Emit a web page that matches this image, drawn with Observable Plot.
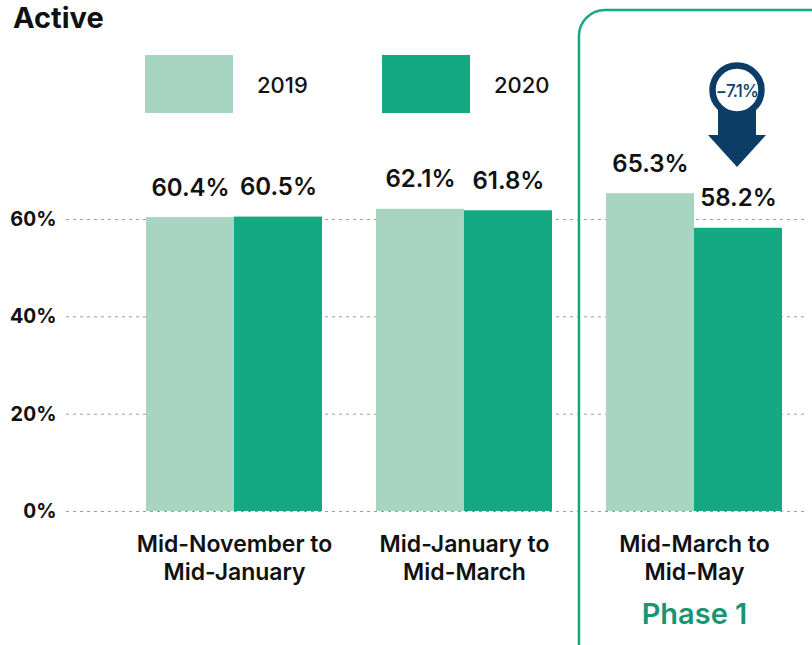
<!DOCTYPE html>
<html><head><meta charset="utf-8">
<script src="https://cdn.jsdelivr.net/npm/d3@7"></script>
<script src="https://cdn.jsdelivr.net/npm/@observablehq/plot@0.6"></script>
<style>
body{margin:0;background:#fff;}
#wrap{position:relative;width:812px;height:645px;overflow:hidden;}
#wrap svg{display:block;}
</style></head><body><div id="wrap"></div>
<script>
const title = "Active";
const periods = ["Mid-November to\nMid-January", "Mid-January to\nMid-March", "Mid-March to\nMid-May"];
const years = ["2019", "2020"];
const values2019 = [60.4, 62.1, 65.3];
const values2020 = [60.5, 61.8, 58.2];
const yTicks = [0, 20, 40, 60];
const phaseLabel = "Phase 1";
const changeLabel = "\u22127.1%";
const colors = ["#a8d5c2", "#14a983"];
const navy = "#0b3d66";
const FONT = "Inter, 'Noto Sans', sans-serif";

const rows = periods.flatMap((p, i) => [
  {period: p, year: years[0], value: values2019[i]},
  {period: p, year: years[1], value: values2020[i]}
]);
const r19 = rows.filter(d => d.year === years[0]);
const r20 = rows.filter(d => d.year === years[1]);

const xRange = [145.5, 781.5];
const padIn = 0.235;
const band = d3.scaleBand(periods, xRange).paddingInner(padIn).paddingOuter(0);
const half = band.bandwidth() / 2;

const plot = Plot.plot({
  width: 812, height: 645,
  marginLeft: 66, marginRight: 8, marginTop: 0, marginBottom: 0,
  style: {fontFamily: FONT, background: "#fff", overflow: "visible"},
  x: {domain: periods, range: xRange, paddingInner: padIn, paddingOuter: 0, axis: null},
  y: {domain: [0, 60], range: [511, 219], axis: null},
  marks: [
    Plot.ruleY(yTicks, {stroke: "#9c9c9c", strokeDasharray: "3,4", strokeWidth: 1}),
    Plot.axisY(yTicks, {tickSize: 0, tickPadding: 10, tickFormat: d => d + "%", fontSize: 20, fontWeight: 700, fill: "#111", label: null}),
    Plot.barY(r19, {x: "period", y: "value", fill: colors[0], insetRight: half}),
    Plot.barY(r20, {x: "period", y: "value", fill: colors[1], insetLeft: half}),
    Plot.text(r19, {x: "period", y: "value", text: d => d.value.toFixed(1) + "%", dx: -half / 2, dy: -22, lineAnchor: "bottom", fontSize: 24, fontWeight: 600, fill: "#111"}),
    Plot.text(r20, {x: "period", y: "value", text: d => d.value.toFixed(1) + "%", dx: half / 2, dy: -22, lineAnchor: "bottom", fontSize: 24, fontWeight: 600, fill: "#111"}),
    Plot.text(periods, {x: d => d, y: () => 0, dy: 21, lineAnchor: "top", fontSize: 23, fontWeight: 600, lineHeight: 1.22, fill: "#111", style: {letterSpacing: "0.3px"}}),
    Plot.text([phaseLabel], {x: () => periods[2], y: () => 0, dy: 103, lineAnchor: "middle", fontSize: 29, fontWeight: 600, fill: "#1a9572"})
  ]
});
document.getElementById("wrap").appendChild(plot);

const svg = d3.select(plot);
const xs = plot.scale("x");
const x3 = xs.apply(periods[2]);
const step = xs.step;

// Phase box
svg.append("rect")
  .attr("x", x3 - step * padIn / 2).attr("y", 10)
  .attr("width", 400).attr("height", 800).attr("rx", 26)
  .attr("fill", "none").attr("stroke", colors[1]).attr("stroke-width", 2.5);

// Change arrow
const cx = x3 + xs.bandwidth * 0.75 - 1;
const g = svg.append("g");
g.append("rect").attr("x", cx - 19).attr("y", 108).attr("width", 38).attr("height", 30).attr("fill", navy);
g.append("path").attr("d", `M${cx - 29},135L${cx + 29},135L${cx},167Z`).attr("fill", navy);
g.append("circle").attr("cx", cx).attr("cy", 90).attr("r", 24.5).attr("fill", "#fff").attr("stroke", navy).attr("stroke-width", 6.5);
g.append("text").attr("x", cx).attr("y", 91).attr("text-anchor", "middle").attr("dominant-baseline", "central")
  .attr("font-family", FONT).attr("font-size", 17).attr("font-weight", 500).attr("letter-spacing", -0.7).attr("fill", navy).text(changeLabel);

// Title
svg.append("text").attr("x", 13).attr("y", 28).attr("text-anchor", "start").attr("font-family", FONT).attr("font-size", 29).attr("font-weight", 700).attr("fill", "#111").text(title);

// Legend
const legendX = [145, 382];
years.forEach((yr, i) => {
  svg.append("rect").attr("x", legendX[i]).attr("y", 55).attr("width", 88).attr("height", 58).attr("fill", colors[i]);
  svg.append("text").attr("x", legendX[i] + 112).attr("y", 93).attr("text-anchor", "start").attr("font-family", FONT).attr("font-size", 22).attr("font-weight", 500).attr("fill", "#111").text(yr);
});
</script>
</body></html>
